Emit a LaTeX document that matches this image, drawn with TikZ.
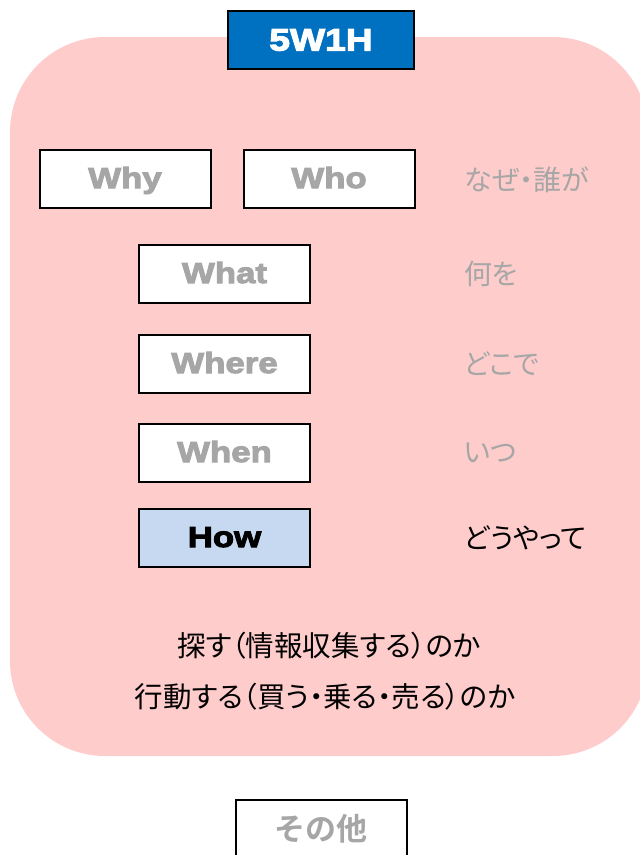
\documentclass[tikz,border=0pt]{standalone}
\usepackage{fontspec}
\setmainfont{Liberation Sans}
\newfontfamily\jp[RawFeature=+palt]{Noto Sans CJK JP}
\newfontfamily\jpb{Noto Sans CJK JP Bold}
\newfontfamily\lat[FakeBold=3.5,FakeStretch=1.2]{Liberation Sans Bold}
\definecolor{pinkbg}{HTML}{FFCCCC}
\definecolor{grayt}{HTML}{A6A6A6}
\definecolor{bluehdr}{HTML}{0070C0}
\definecolor{lightblue}{HTML}{C6D9F1}
\tikzset{
  wbox/.style={draw=black, line width=2pt, fill=white, minimum width=171pt, minimum height=58pt, inner sep=0pt, text height=21pt, text depth=3pt, text=grayt, font=\fontsize{29}{30}\selectfont\lat},
  jlabel/.style={anchor=west, inner sep=0pt, text=grayt, font=\fontsize{28}{29}\selectfont\jp},
  jtext/.style={inner sep=0pt, text=black, font=\fontsize{28.5}{30}\selectfont\jp}
}
\begin{document}
\begin{tikzpicture}[x=1pt,y=-1pt]
\useasboundingbox (0,0) rectangle (640,855);
\fill[pinkbg, rounded corners=95pt] (10,37) rectangle (648,756);
\node[wbox, fill=bluehdr, text=white, minimum width=186pt, text height=23pt, text depth=2pt, font=\fontsize{31}{32}\selectfont\lat] (hdr) at (321,40) {5W1H};
\node[wbox] (why) at (125,179) {Why};
\node[wbox] (who) at (329,179) {Who};
\node[jlabel] (whyj) at (464,180) {なぜ・誰が};
\node[wbox] (what) at (224.5,274) {What};
\node[jlabel] (whatj) at (464,274) {何を};
\node[wbox] (where) at (224.5,364) {Where};
\node[jlabel] (wherej) at (464,364) {どこで};
\node[wbox] (when) at (224.5,453) {When};
\node[jlabel] (whenj) at (464,453) {いつ};
\node[wbox, fill=lightblue, text=black] (how) at (224.5,538) {How};
\node[jlabel, text=black] (howj) at (464,538) {どうやって};
\node[jtext] (l1) at (329,646) {探す（情報収集する）のか};
\node[jtext] (l2) at (325,697) {行動する（買う・乗る・売る）のか};
\node[wbox, minimum height=60pt, text height=25pt, text depth=5pt, font=\fontsize{31}{32}\selectfont\jpb] (other) at (321,830) {その他};
\end{tikzpicture}
\end{document}
